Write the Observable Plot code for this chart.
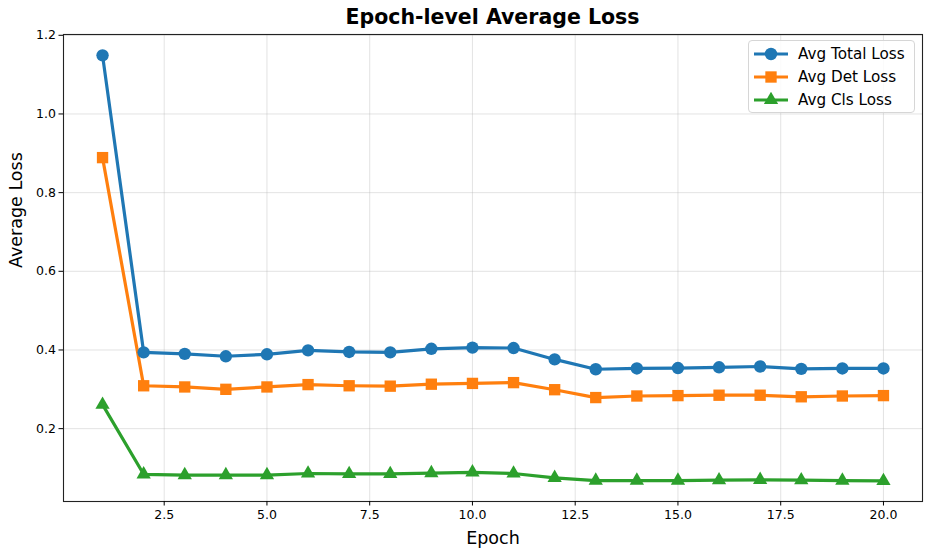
<!DOCTYPE html>
<html><head><meta charset="utf-8">
<script src="https://cdn.jsdelivr.net/npm/d3@7"></script>
<script src="https://cdn.jsdelivr.net/npm/@observablehq/plot@0.6"></script>
<style>
body{margin:0;background:#fff;font-family:"DejaVu Sans",sans-serif;}
#wrap{position:relative;width:933px;height:557px;overflow:hidden;}
#title{height:22px;width:933px;position:relative;z-index:2;}
#title span{position:absolute;left:63px;width:859px;top:5px;text-align:center;font-weight:bold;font-size:20.5px;color:#000;white-space:nowrap;}
#legend{position:absolute;left:748px;top:40px;width:167px;height:73px;border:1px solid #d6d6d6;border-radius:4px;background:rgba(255,255,255,0.85);box-sizing:border-box;z-index:3;}
.row{position:absolute;left:4px;height:20px;display:flex;align-items:center;font-size:15.2px;color:#000;white-space:nowrap;}
.row svg{margin-right:9px;}
</style></head>
<body>
<div id="wrap">
<div id="title"><span>Epoch-level Average Loss</span></div>
<div id="chart"></div>
<div id="legend"></div>
</div>
<script>
const epochs = [1,2,3,4,5,6,7,8,9,10,11,12,13,14,15,16,17,18,19,20];
const totalLoss = [1.149,0.394,0.390,0.384,0.389,0.399,0.395,0.394,0.403,0.406,0.405,0.376,0.351,0.353,0.354,0.356,0.358,0.352,0.353,0.353];
const detLoss = [0.889,0.309,0.306,0.300,0.306,0.312,0.309,0.308,0.313,0.315,0.317,0.299,0.279,0.283,0.284,0.285,0.285,0.281,0.283,0.284];
const clsLoss = [0.261,0.084,0.082,0.082,0.082,0.086,0.085,0.085,0.087,0.089,0.086,0.075,0.068,0.068,0.068,0.069,0.070,0.069,0.068,0.067];
const seriesNames = ["Avg Total Loss","Avg Det Loss","Avg Cls Loss"];
const seriesColors = ["#1f77b4","#ff7f0e","#2ca02c"];
const seriesSymbols = ["circle","square","triangle"];
const xTicks = [2.5,5.0,7.5,10.0,12.5,15.0,17.5,20.0];
const yTicks = [0.2,0.4,0.6,0.8,1.0,1.2];
const xLabel = "Epoch";
const yLabel = "Average Loss";

const seriesValues = [totalLoss, detLoss, clsLoss];
const markerR = {circle: 6.2, square: 6.4, triangle: 5.3};
const data = [];
seriesNames.forEach((s, i) => epochs.forEach((e, j) => data.push({epoch: e, loss: seriesValues[i][j], series: s})));

const chart = Plot.plot({
  width: 933,
  height: 535,
  marginTop: 12,
  marginBottom: 56,
  marginLeft: 63,
  marginRight: 11,
  style: {fontFamily: "DejaVu Sans", fontSize: "12.5px", color: "#000", background: "transparent"},
  x: {domain: [0.05, 20.95]},
  y: {domain: [0.0148, 1.202]},
  color: {domain: seriesNames, range: seriesColors},
  symbol: {domain: seriesNames, range: seriesSymbols},
  marks: [
    Plot.gridX(xTicks, {stroke: "#b0b0b0", strokeOpacity: 0.35, strokeWidth: 1}),
    Plot.gridY(yTicks, {stroke: "#b0b0b0", strokeOpacity: 0.35, strokeWidth: 1}),
    Plot.line(data, {x: "epoch", y: "loss", z: "series", stroke: "series", strokeWidth: 3.2}),
    ...seriesNames.map((s, i) => Plot.dot(data.filter(d => d.series === s), {x: "epoch", y: "loss", fill: "series", symbol: "series", r: markerR[seriesSymbols[i]], stroke: null})),
    Plot.frame({stroke: "#222", strokeWidth: 1.1}),
    Plot.axisX({ticks: xTicks, tickFormat: d3.format(".1f"), tickSize: 4.5, tickPadding: 4, fontSize: 12.5, label: null, stroke: "#000"}),
    Plot.axisY({ticks: yTicks, tickFormat: d3.format(".1f"), tickSize: 4.5, tickPadding: 3, fontSize: 12.5, label: null, stroke: "#000"}),
    Plot.text([xLabel], {frameAnchor: "bottom", text: d => d, dy: 42, fontSize: 17.5, fill: "#000"}),
    Plot.text([yLabel], {frameAnchor: "left", text: d => d, dx: -47, rotate: -90, fontSize: 17.5, fill: "#000"})
  ]
});
document.getElementById("chart").appendChild(chart);

const legend = document.getElementById("legend");
const symMap = {circle: d3.symbolCircle, square: d3.symbolSquare, triangle: d3.symbolTriangle};
seriesNames.forEach((s, i) => {
  const row = document.createElement("div");
  row.className = "row";
  row.style.top = (3 + i * 23) + "px";
  const sw = d3.create("svg").attr("width", 36).attr("height", 16);
  sw.append("line").attr("x1", 1).attr("x2", 35).attr("y1", 8).attr("y2", 8).attr("stroke", seriesColors[i]).attr("stroke-width", 3.2);
  const rr = markerR[seriesSymbols[i]];
  sw.append("path").attr("transform", "translate(18,8)").attr("d", d3.symbol(symMap[seriesSymbols[i]], Math.PI * rr * rr)()).attr("fill", seriesColors[i]);
  row.appendChild(sw.node());
  const t = document.createElement("span");
  t.textContent = s;
  row.appendChild(t);
  legend.appendChild(row);
});
</script>
</body></html>
